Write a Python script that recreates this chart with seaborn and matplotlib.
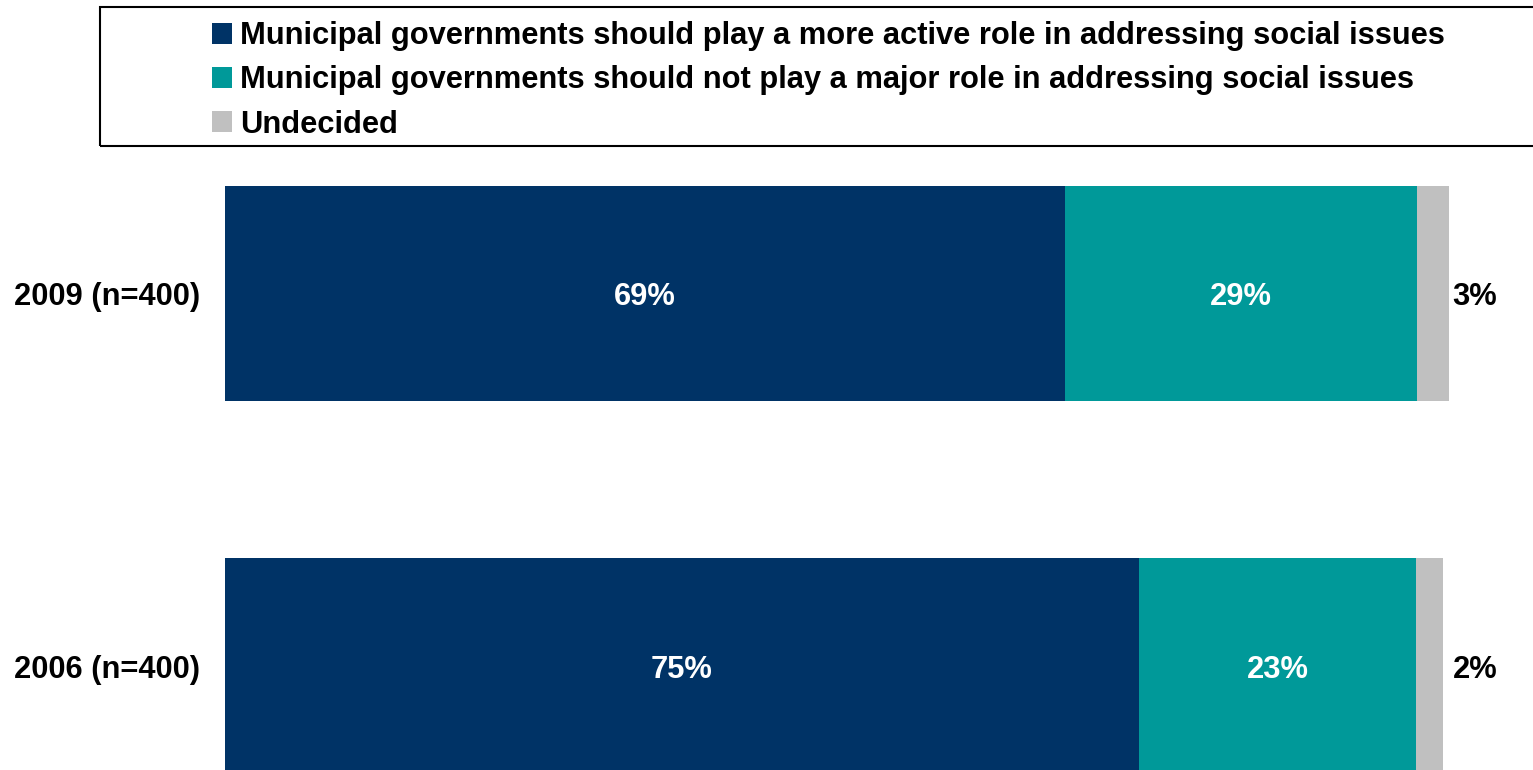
import numpy as np
import pandas as pd
import matplotlib
matplotlib.use("Agg")
import matplotlib.pyplot as plt
from matplotlib.patches import Patch, Rectangle
import seaborn as sns

sns.set_theme(style="white")
plt.rcParams["font.family"] = ["Liberation Sans", "DejaVu Sans"]
plt.rcParams["font.weight"] = "bold"
plt.rcParams["text.color"] = "black"

# data
years = ["2009 (n=400)", "2006 (n=400)"]
more_active = [69, 75.1]
not_major = [29, 22.8]
undecided = [2.6, 2.2]
series_names = [
    "Municipal governments should play a more active role in addressing social issues",
    "Municipal governments should not play a major role in addressing social issues",
    "Undecided",
]
colors = ["#003366", "#009999", "#C0C0C0"]

df = pd.DataFrame({"year": years, "a": more_active, "b": not_major, "c": undecided})
df["ab"] = df["a"] + df["b"]
df["abc"] = df["ab"] + df["c"]

FS = 22.2
W, H = 1533, 770
fig = plt.figure(figsize=(W / 100, H / 100), dpi=100)
ax = fig.add_axes([225 / W, 0, (W - 225) / W, (770 - 175) / H])

# stacked look: draw cumulative totals back to front
for col, c in [("abc", colors[2]), ("ab", colors[1]), ("a", colors[0])]:
    sns.barplot(data=df, x=col, y="year", orient="h", color=c, width=0.578,
                errorbar=None, ax=ax, saturation=1, linewidth=0)

ax.set_xlim(0, 107.5)
ax.set_ylim(1.279, -0.318)
ax.set_xlabel("")
ax.set_ylabel("")
ax.set_xticks([])
for s in ax.spines.values():
    s.set_visible(False)
ax.tick_params(axis="y", length=0, pad=18)
for lab in ax.get_yticklabels():
    lab.set_fontsize(FS)
    lab.set_fontweight("bold")
    lab.set_color("black")

for i, row in df.iterrows():
    ax.text(row["a"] / 2, i, f"{round(row['a'])}%", color="white", fontsize=FS,
            fontweight="bold", ha="center", va="center_baseline")
    ax.text(row["a"] + row["b"] / 2, i, f"{round(row['b'])}%", color="white",
            fontsize=FS, fontweight="bold", ha="center", va="center_baseline")
    ax.text(100.9, i, f"{round(row['c'])}%", color="black", fontsize=FS,
            fontweight="bold", ha="left", va="center_baseline")

# legend box
fig.patches.append(Rectangle((100 / W, 1 - 146 / H), (W + 10 - 100) / W, 139 / H,
                             transform=fig.transFigure, fill=False,
                             edgecolor="black", linewidth=1.5))
handles = [Patch(facecolor=c, edgecolor="none") for c in colors]
leg = fig.legend(handles, series_names, loc="upper left",
                 bbox_to_anchor=(203 / W, 1 - 12 / H), frameon=False,
                 prop={"size": FS, "weight": "bold"},
                 handlelength=0.65, handleheight=0.65, handletextpad=0.26,
                 labelspacing=0.46, borderaxespad=0, borderpad=0.3)
for t in leg.get_texts():
    t.set_color("black")

fig.savefig("out.png", dpi=100)
